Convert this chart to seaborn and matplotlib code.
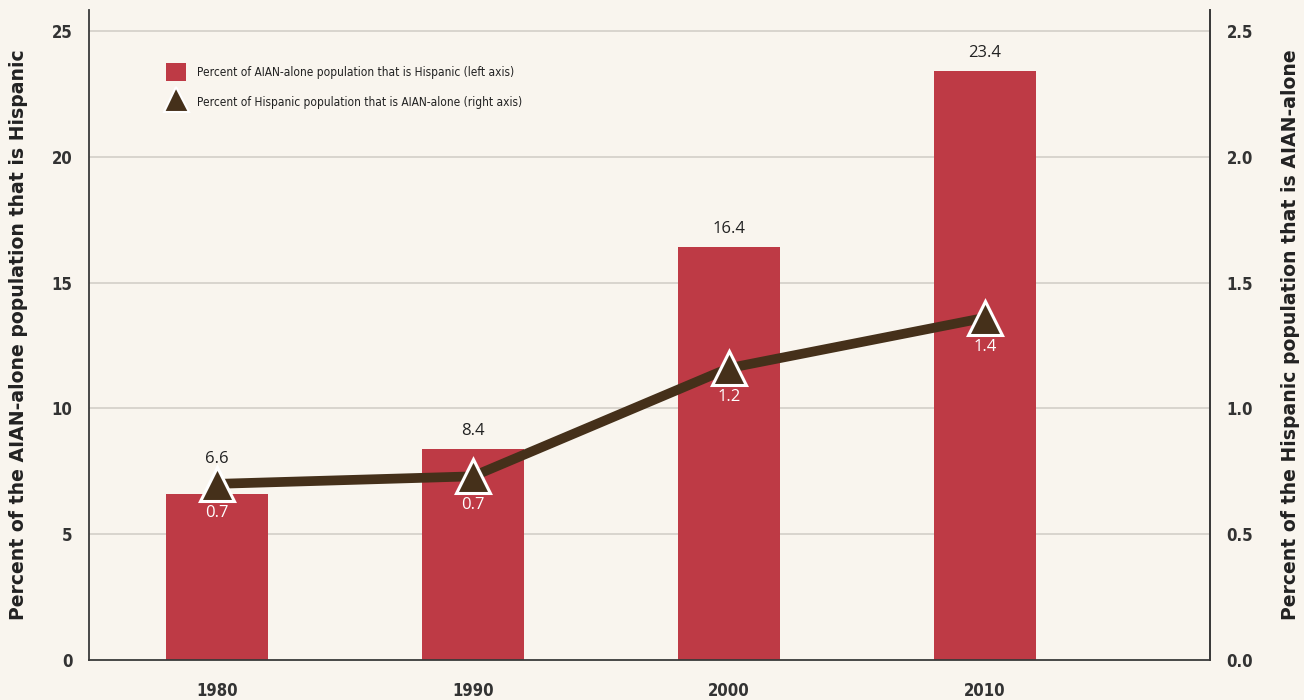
import numpy as np
import pandas as pd
import matplotlib
matplotlib.use("Agg")
import matplotlib.pyplot as plt
import seaborn as sns
from matplotlib.lines import Line2D
from matplotlib.patches import Patch
from matplotlib import font_manager as fm

years = ["1980", "1990", "2000", "2010"]
aian_hispanic_pct = [6.6, 8.4, 16.4, 23.4]
hispanic_aian_pct = [0.70, 0.73, 1.16, 1.36]
left_ticks = [0, 5, 10, 15, 20, 25]
right_ticks = [0.0, 0.5, 1.0, 1.5, 2.0, 2.5]
legend_labels = ["Percent of AIAN-alone population that is Hispanic (left axis)",
                 "Percent of Hispanic population that is AIAN-alone (right axis)"]
left_label = "Percent of the AIAN-alone population that is Hispanic"
right_label = "Percent of the Hispanic population that is AIAN-alone"

BG = "#F9F5EE"
BAR = "#BE3A45"
LINE = "#45301A"
GRID = "#D6D2CB"
SPINE = "#3A3A3A"

sns.set_theme(style="white")
plt.rcParams["font.family"] = ["DejaVu Sans"]

names = {f.name for f in fm.fontManager.ttflist}
cond_fam = "Liberation Sans Narrow" if "Liberation Sans Narrow" in names else "DejaVu Sans"
cond = dict(family=cond_fam, stretch="condensed")

df = pd.DataFrame({"year": years, "bar": aian_hispanic_pct, "line": hispanic_aian_pct})
df["pos"] = np.arange(len(df))

fig = plt.figure(figsize=(13.04, 7.0), dpi=100, facecolor=BG)
ax = fig.add_axes([89/1304, 1-660/700, (1210-89)/1304, 650/700])
ax.set_facecolor(BG)

sns.barplot(data=df, x="year", y="bar", color=BAR, width=0.4, ax=ax, saturation=1,
            linewidth=0, zorder=2)
ax.set_xlim(-0.5, 3.88)
ymax = 25 + 21/25.16
ax.set_ylim(0, ymax)
ax.set_yticks(left_ticks)
ax.set_yticklabels([str(t) for t in left_ticks], fontsize=12, color="#333333", fontweight="bold", **cond)
ax.set_xticks(range(len(years)))
ax.set_xticklabels(years, fontsize=12, color="#333333", fontweight="bold", **cond)
ax.tick_params(axis="y", length=0, pad=12)
ax.tick_params(axis="x", length=0, pad=16)
for t in left_ticks[1:]:
    ax.axhline(t, color=GRID, lw=1.3, zorder=0)
ax.set_xlabel("")
ax.set_ylabel(left_label, fontsize=13.6, fontweight="bold", color="#222222", labelpad=17, family="DejaVu Sans")

ax.spines["top"].set_visible(False)
for sp in ["left", "bottom", "right"]:
    ax.spines[sp].set_color(SPINE)
    ax.spines[sp].set_linewidth(1.3)

for i, v in enumerate(aian_hispanic_pct):
    off = 13
    if hispanic_aian_pct[i] * 10 > v - 0.5:
        off = 25
    ax.annotate(f"{v:.1f}", (i, v), xytext=(0, off), textcoords="offset points",
                ha="center", va="center", fontsize=12, color="#222222", family="Open Sans")

ax2 = ax.twinx()
sns.lineplot(data=df, x="pos", y="line", color=LINE, lw=7, ax=ax2, zorder=3,
             marker="^", markersize=24, markeredgecolor="white", markeredgewidth=2.2,
             markerfacecolor=LINE)
ax2.set_ylim(0, ymax / 10)
ax2.set_yticks(right_ticks)
ax2.set_yticklabels([f"{t:.1f}" for t in right_ticks], fontsize=12, color="#333333", fontweight="bold", **cond)
ax2.tick_params(axis="y", length=0, pad=12)
ax2.set_ylabel(right_label, fontsize=13.6, fontweight="bold", color="#222222", labelpad=20, family="DejaVu Sans")
ax2.set_xlabel("")
for sp in ["top", "left", "bottom"]:
    ax2.spines[sp].set_visible(False)
ax2.spines["right"].set_color(SPINE)
ax2.spines["right"].set_linewidth(1.3)

for i, v in enumerate(hispanic_aian_pct):
    ax2.annotate(f"{v:.1f}", (i, v), xytext=(0, -21), textcoords="offset points",
                 ha="center", va="center", fontsize=12, color="white", family="Open Sans")

handles = [Patch(facecolor=BAR, edgecolor="none"),
           Line2D([], [], marker="^", linestyle="none", markersize=18, markerfacecolor=LINE,
                  markeredgecolor="white", markeredgewidth=1.5)]
leg = ax.legend(handles, legend_labels, loc="upper left", bbox_to_anchor=(0.059, 0.935),
                frameon=False, prop=dict(size=8.6, **cond), handlelength=1.7,
                handleheight=2.0, labelspacing=0.95, handletextpad=0.9)
for t in leg.get_texts():
    t.set_color("#222222")

fig.savefig("out.png", dpi=100, facecolor=BG)
